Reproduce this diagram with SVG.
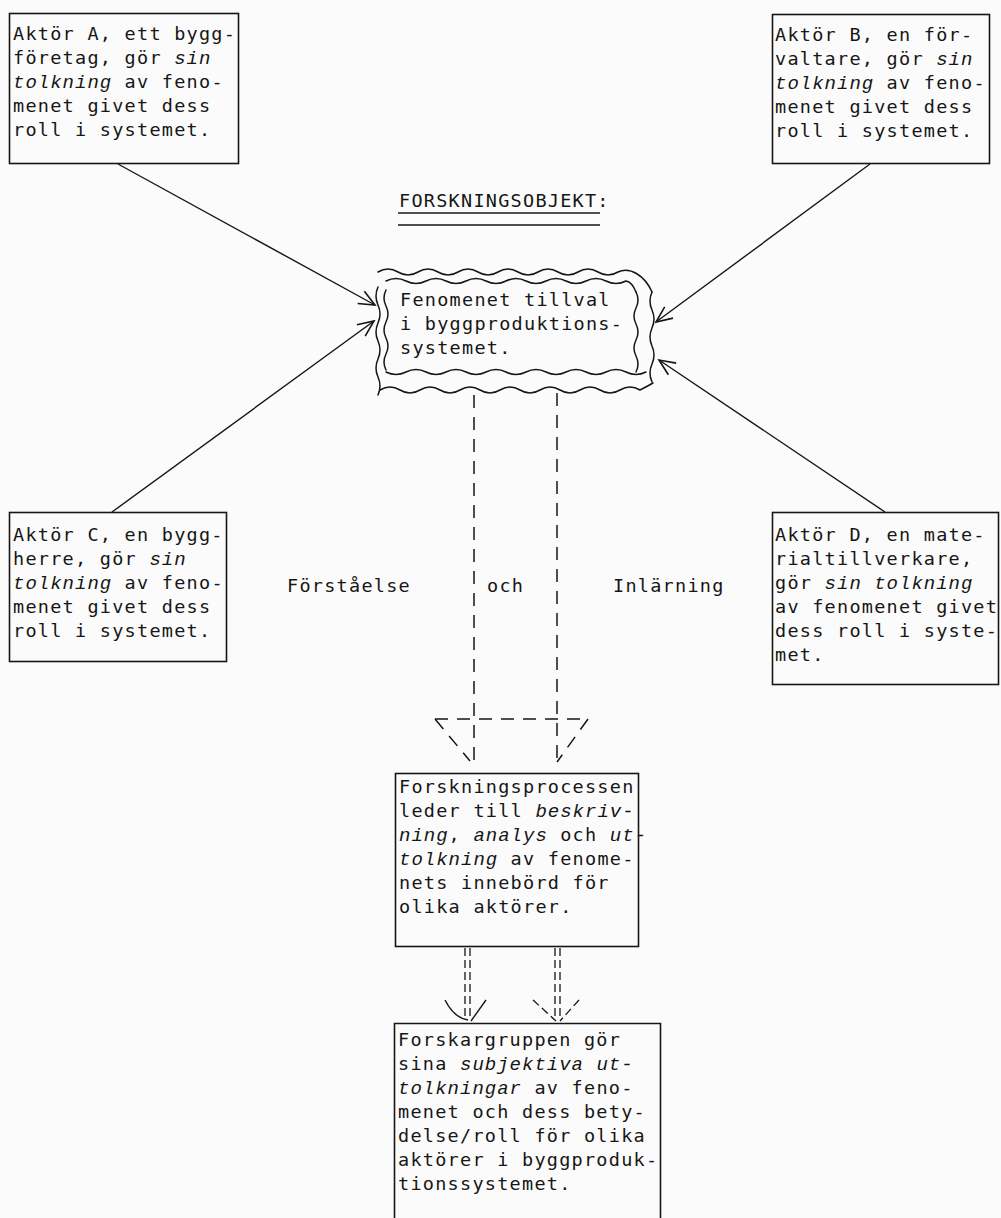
<svg xmlns="http://www.w3.org/2000/svg" width="1001" height="1218" viewBox="0 0 1001 1218">
  <defs>
    <style>
      .t { font-family: "DejaVu Sans Mono", "Liberation Mono", monospace; font-size: 18.5px; letter-spacing: 1.26px; fill: #161616; }
      .i { font-family: "Liberation Mono", "DejaVu Sans Mono", monospace; font-style: italic; font-size: 19px; letter-spacing: 1.0px; }
      .box { fill: none; stroke: #161616; stroke-width: 1.6; }
      .wave { fill: none; stroke: #161616; stroke-width: 1.5; stroke-linecap: round; }
      .arrow { fill: none; stroke: #161616; stroke-width: 1.4; marker-end: url(#vhead); }
      .dash { fill: none; stroke: #161616; stroke-width: 1.5; stroke-dasharray: 13 9; }
      .dash2 { fill: none; stroke: #161616; stroke-width: 1.3; stroke-dasharray: 8 4; }
      .ul { stroke: #161616; stroke-width: 1.5; }
    </style>
    <marker id="vhead" viewBox="-18 -9 20 18" refX="0" refY="0" markerWidth="20" markerHeight="18" markerUnits="userSpaceOnUse" orient="auto">
      <path d="M-16,-7 L0,0 L-16,7" fill="none" stroke="#161616" stroke-width="1.6"/>
    </marker>
  </defs>

  <rect width="1001" height="1218" fill="#fbfbfb"/>

  <!-- Actor A -->
  <g id="actor-a">
    <rect class="box" x="9.5" y="13.5" width="229" height="150"/>
    <text class="t" x="13" y="40">Aktör A, ett bygg-</text>
    <text class="t" x="13" y="64">företag, gör <tspan class="i">sin</tspan></text>
    <text class="t" x="13" y="88"><tspan class="i">tolkning</tspan> av feno-</text>
    <text class="t" x="13" y="112">menet givet dess</text>
    <text class="t" x="13" y="136">roll i systemet.</text>
  </g>

  <!-- Actor B -->
  <g id="actor-b">
    <rect class="box" x="772.5" y="14.5" width="217" height="149"/>
    <text class="t" x="775" y="41">Aktör B, en för-</text>
    <text class="t" x="775" y="65">valtare, gör <tspan class="i">sin</tspan></text>
    <text class="t" x="775" y="89"><tspan class="i">tolkning</tspan> av feno-</text>
    <text class="t" x="775" y="113">menet givet dess</text>
    <text class="t" x="775" y="137">roll i systemet.</text>
  </g>

  <!-- Actor C -->
  <g id="actor-c">
    <rect class="box" x="9.5" y="512.5" width="217" height="149"/>
    <text class="t" x="13" y="541">Aktör C, en bygg-</text>
    <text class="t" x="13" y="565">herre, gör <tspan class="i">sin</tspan></text>
    <text class="t" x="13" y="589"><tspan class="i">tolkning</tspan> av feno-</text>
    <text class="t" x="13" y="613">menet givet dess</text>
    <text class="t" x="13" y="637">roll i systemet.</text>
  </g>

  <!-- Actor D -->
  <g id="actor-d">
    <rect class="box" x="772.5" y="512.5" width="226" height="172"/>
    <text class="t" x="775" y="541">Aktör D, en mate-</text>
    <text class="t" x="775" y="565">rialtillverkare,</text>
    <text class="t" x="775" y="589">gör <tspan class="i">sin tolkning</tspan></text>
    <text class="t" x="775" y="613">av fenomenet givet</text>
    <text class="t" x="775" y="637">dess roll i syste-</text>
    <text class="t" x="775" y="661">met.</text>
  </g>

  <!-- Research object heading -->
  <g id="heading">
    <text class="t" x="399" y="207">FORSKNINGSOBJEKT:</text>
    <line class="ul" x1="398" y1="213" x2="600" y2="213"/>
    <line class="ul" x1="398" y1="225" x2="600" y2="225"/>
  </g>

  <!-- Phenomenon: wavy double frame -->
  <g id="phenomenon">
    <path class="wave" d="M378,272 q10,-6 20,0 t20,0 t20,0 t20,0 t20,0 t20,0 t20,0 t20,0 t20,0 t20,0 t20,0 t20,0 C630,266 645,276 652,292"/>
    <path class="wave" d="M386,281 q10,-5 20,0 t20,0 t20,0 t20,0 t20,0 t20,0 t20,0 t20,0 t20,0 t20,0 t20,0 t20,0 Q632,282 636,292"/>
    <path class="wave" d="M386,372 q10,5 20,0 t20,0 t20,0 t20,0 t20,0 t20,0 t20,0 t20,0 t20,0 t20,0 t20,0 t20,0 t20,0"/>
    <path class="wave" d="M380,390 q10,-6 20,0 t20,0 t20,0 t20,0 t20,0 t20,0 t20,0 t20,0 t20,0 t20,0 t20,0 t20,0 t20,0 Q648,386 653,383"/>
    <path class="wave" d="M386,290 q-4,8 0,16 t0,16 t0,16 t0,16 t0,16"/>
    <path class="wave" d="M378,287 q-4,9 0,18 t0,18 t0,18 t0,18 t0,18 t0,18"/>
    <path class="wave" d="M636,292 q4,8 0,16 t0,16 t0,16 t0,16 t0,16"/>
    <path class="wave" d="M652,292 q-4,9 0,18 t0,18 t0,18 t0,18 t0,18"/>
    <text class="t" x="400" y="306">Fenomenet tillval</text>
    <text class="t" x="400" y="330">i byggproduktions-</text>
    <text class="t" x="400" y="354">systemet.</text>
  </g>

  <!-- Research process -->
  <g id="process">
    <rect class="box" x="395.5" y="773.5" width="243" height="173"/>
    <text class="t" x="399" y="793">Forskningsprocessen</text>
    <text class="t" x="399" y="817">leder till <tspan class="i">beskriv-</tspan></text>
    <text class="t" x="399" y="841"><tspan class="i">ning</tspan>, <tspan class="i">analys</tspan> och <tspan class="i">ut-</tspan></text>
    <text class="t" x="399" y="865"><tspan class="i">tolkning</tspan> av fenome-</text>
    <text class="t" x="399" y="889">nets innebörd för</text>
    <text class="t" x="399" y="913">olika aktörer.</text>
  </g>

  <!-- Research group -->
  <g id="group">
    <path class="box" d="M394.5,1218 V1023.5 H660.5 V1218"/>
    <text class="t" x="398" y="1046">Forskargruppen gör</text>
    <text class="t" x="398" y="1070">sina <tspan class="i">subjektiva ut-</tspan></text>
    <text class="t" x="398" y="1094"><tspan class="i">tolkningar</tspan> av feno-</text>
    <text class="t" x="398" y="1118">menet och dess bety-</text>
    <text class="t" x="398" y="1142">delse/roll för olika</text>
    <text class="t" x="398" y="1166">aktörer i byggproduk-</text>
    <text class="t" x="398" y="1190">tionssystemet.</text>
  </g>

  <!-- Flow labels -->
  <g id="labels">
    <text class="t" x="287" y="592">Förståelse</text>
    <text class="t" x="487" y="592">och</text>
    <text class="t" x="613" y="592">Inlärning</text>
  </g>

  <!-- Connectors -->
  <g id="connectors">
    <line class="arrow" x1="118" y1="164" x2="375" y2="305"/>
    <line class="arrow" x1="112" y1="512" x2="374" y2="321"/>
    <line class="arrow" x1="870" y1="164" x2="656" y2="322"/>
    <line class="arrow" x1="885" y1="512" x2="659" y2="360"/>

    <!-- dashed understanding / learning flow -->
    <line class="dash" x1="474" y1="395" x2="474" y2="762"/>
    <line class="dash" x1="557" y1="393" x2="557" y2="762"/>
    <line class="dash" x1="435" y1="719" x2="588" y2="719" stroke-dasharray="9 6"/>
    <line class="dash" x1="435" y1="719" x2="470" y2="761" stroke-dasharray="9 6"/>
    <line class="dash" x1="588" y1="719" x2="557" y2="762" stroke-dasharray="9 6"/>

    <!-- double dashed arrows to the research group -->
    <line class="dash2" x1="465" y1="948" x2="465" y2="1016"/>
    <line class="dash2" x1="470" y1="948" x2="470" y2="1020"/>
    <line class="dash2" x1="555" y1="948" x2="555" y2="1018"/>
    <line class="dash2" x1="560" y1="948" x2="560" y2="1018"/>
    <path d="M445,1000 Q454,1018 468,1020" fill="none" stroke="#161616" stroke-width="1.4"/>
    <path d="M486,1000 L471,1021" fill="none" stroke="#161616" stroke-width="1.4"/>
    <path d="M533,1000 L556,1021" class="dash2" stroke-dasharray="6 3"/>
    <path d="M579,1000 L560,1021" class="dash2" stroke-dasharray="6 3"/>
  </g>
</svg>
